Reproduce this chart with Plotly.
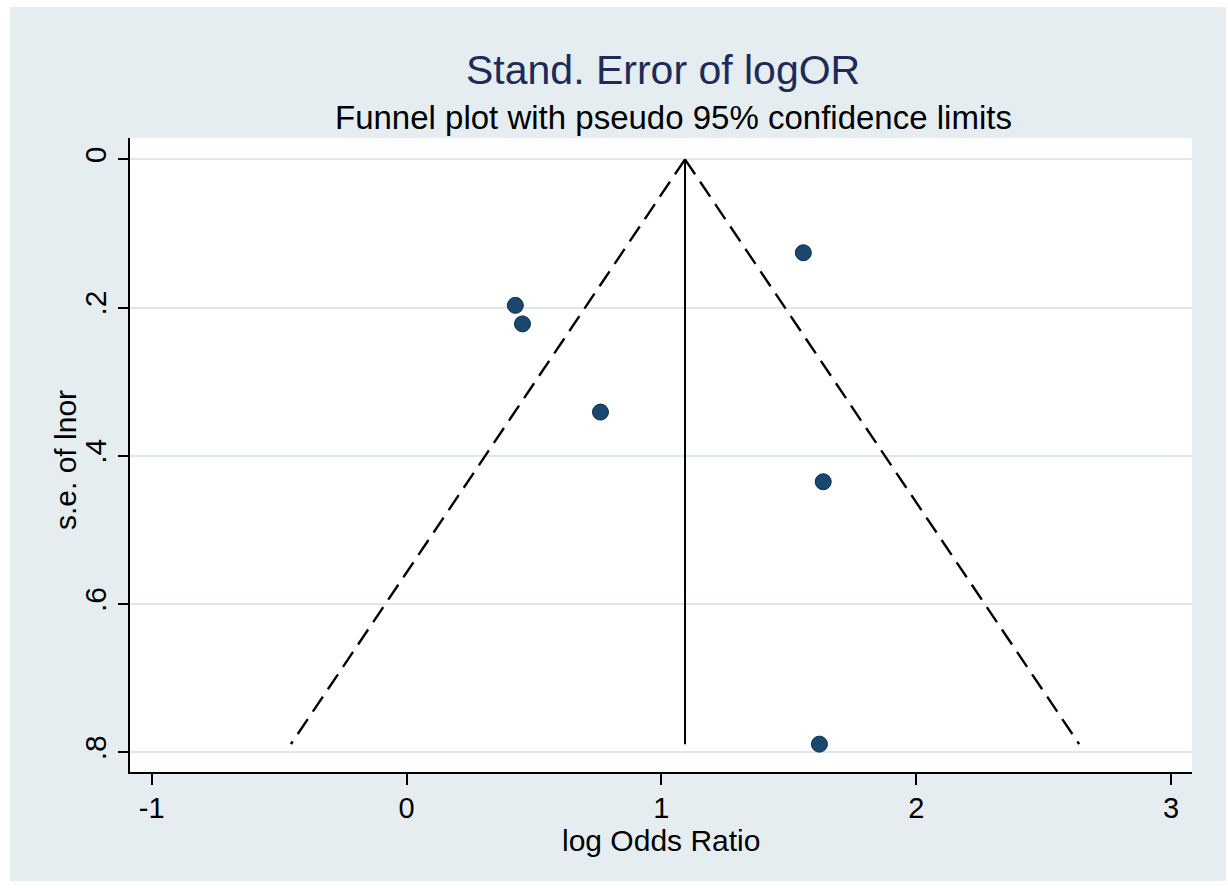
import numpy as np
import plotly.graph_objects as go

# ---- data ----
log_or = [0.427, 0.455, 0.761, 1.557, 1.635, 1.620]
se_lnor = [0.197, 0.222, 0.341, 0.126, 0.435, 0.789]

x_tickvals = [-1, 0, 1, 2, 3]
x_ticktext = ["-1", "0", "1", "2", "3"]
y_tickvals = [0, 0.2, 0.4, 0.6, 0.8]
y_ticktext = ["0", ".2", ".4", ".6", ".8"]

# fixed-effect pooled estimate and pseudo 95% limits
w = 1 / np.array(se_lnor) ** 2
pooled = float(np.sum(w * np.array(log_or)) / np.sum(w))
se_max = max(se_lnor)
se_grid = np.linspace(0, se_max, 9)
lower = pooled - 1.96 * se_grid
upper = pooled + 1.96 * se_grid

W, H = 1228, 888
ML, MR, MT, MB = 130, 36, 138, 116
pw, ph = W - ML - MR, H - MT - MB

def px2paper_x(px):
    return (px - ML) / pw

def px2paper_y(py):
    return (H - MB - py) / ph

BG = "#e5edf0"
GRID = "#dde7ec"
FONT = "Liberation Sans, Arial, sans-serif"

fig = go.Figure()

for xs in (lower, upper):
    fig.add_trace(go.Scatter(x=xs, y=se_grid, mode="lines",
                             line=dict(color="black", width=2.4, dash="18px,9px"),
                             showlegend=False, hoverinfo="skip"))
fig.add_trace(go.Scatter(x=[pooled, pooled], y=[0, se_max], mode="lines",
                         line=dict(color="black", width=2),
                         showlegend=False, hoverinfo="skip"))
fig.add_trace(go.Scatter(x=log_or, y=se_lnor, mode="markers",
                         marker=dict(size=16, color="#1a476f",
                                     line=dict(color="#0e2d4b", width=1)),
                         showlegend=False))

fig.update_layout(
    width=W, height=H,
    margin=dict(l=ML, r=MR, t=MT, b=MB),
    paper_bgcolor="white",
    plot_bgcolor="white",
    font=dict(family=FONT, color="black"),
    shapes=[
        dict(type="rect", xref="paper", yref="paper", layer="below",
             x0=px2paper_x(10), x1=px2paper_x(1226),
             y0=px2paper_y(881), y1=px2paper_y(7),
             fillcolor=BG, line=dict(width=0)),
        dict(type="rect", xref="paper", yref="paper", layer="below",
             x0=0, x1=1, y0=0, y1=1,
             fillcolor="white", line=dict(width=0)),
    ],
    annotations=[
        dict(text="Stand. Error of logOR", xref="paper", yref="paper",
             x=px2paper_x(663), y=px2paper_y(70), xanchor="center", yanchor="middle",
             showarrow=False, font=dict(size=41, color="#1c2b58", family=FONT)),
        dict(text="Funnel plot with pseudo 95% confidence limits", xref="paper", yref="paper",
             x=px2paper_x(673), y=px2paper_y(118), xanchor="center", yanchor="middle",
             showarrow=False, font=dict(size=33, color="black", family=FONT)),
        dict(text="log Odds Ratio", xref="paper", yref="paper",
             x=px2paper_x(661), y=px2paper_y(840), xanchor="center", yanchor="middle",
             showarrow=False, font=dict(size=30, color="black", family=FONT)),
        dict(text="s.e. of lnor", xref="paper", yref="paper", textangle=-90,
             x=px2paper_x(66), y=px2paper_y(460), xanchor="center", yanchor="middle",
             showarrow=False, font=dict(size=30, color="black", family=FONT)),
    ],
    xaxis=dict(
        range=[-1.085, 3.082], tickvals=x_tickvals, ticktext=x_ticktext,
        showgrid=False, zeroline=False, showline=True, linecolor="black", linewidth=2,
        ticks="outside", ticklen=11, tickwidth=2, tickcolor="black",
        tickfont=dict(size=29), mirror=False, ticklabelstandoff=-2,
    ),
    yaxis=dict(
        range=[0.8266, -0.0288], tickvals=y_tickvals, ticktext=y_ticktext,
        showgrid=True, gridcolor=GRID, gridwidth=2,
        zeroline=False, showline=True, linecolor="black", linewidth=2,
        ticks="outside", ticklen=10, tickwidth=2, tickcolor="black",
        tickfont=dict(size=30), tickangle=-90, mirror=False,
    ),
)

fig.write_html("out.html")
